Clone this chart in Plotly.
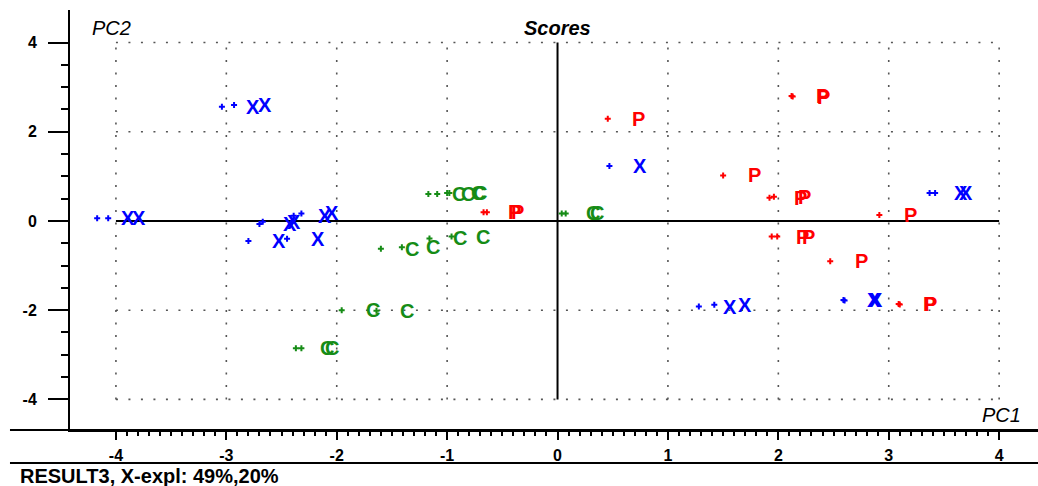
import plotly.graph_objects as go

# ---- data (PC1, PC2 scores) ----
x_blue = [-3.04, -2.93, -4.17, -4.07, -2.70, -2.67, -2.39, -2.32, -2.80, -2.45,
          0.47, 3.37, 3.42, 2.59, 2.60, 1.28, 1.42]
y_blue = [2.56, 2.60, 0.06, 0.06, -0.07, -0.02, 0.12, 0.17, -0.45, -0.40,
          1.23, 0.63, 0.63, -1.77, -1.78, -1.92, -1.88]

x_red = [2.12, 2.13, 0.455, 1.50, 1.92, 1.96, 2.915, 1.94, 1.99, 2.47, 3.09, 3.10, -0.67, -0.64]
y_red = [2.80, 2.79, 2.29, 1.02, 0.52, 0.545, 0.135, -0.35, -0.35, -0.90, -1.86, -1.87, 0.195, 0.195]

x_green = [0.038, 0.074, -1.17, -1.09, -1.00, -0.98, -1.60, -1.41, -1.16, -0.96,
           -1.955, -1.64, -2.37, -2.32]
y_green = [0.17, 0.17, 0.605, 0.605, 0.63, 0.63, -0.62, -0.59, -0.39, -0.35,
           -2.00, -2.01, -2.855, -2.855]

groups = [
    ("X", x_blue, y_blue, "#0000ff"),
    ("P", x_red, y_red, "#ff0000"),
    ("C", x_green, y_green, "#168c16"),
]

x_ticks = [-4, -3, -2, -1, 0, 1, 2, 3, 4]
y_ticks = [-4, -2, 0, 2, 4]
x_minor = [round(-4 + 0.1 * i, 1) for i in range(81) if i % 10 != 0]
y_minor = [-4 + 0.5 * i for i in range(17) if i % 4 != 0]

title_text = "Scores"
x_title = "PC1"
y_title = "PC2"
footer = "RESULT3, X-expl: 49%,20%"

FONT = "Liberation Sans, Arial"

fig = go.Figure()

annotations = []
for lab, xs, ys, col in groups:
    fig.add_trace(go.Scatter(
        x=xs, y=ys, mode="markers",
        marker=dict(symbol="cross", size=5, color=col, line=dict(width=0)),
        showlegend=False, hoverinfo="skip",
    ))
    for xv, yv in zip(xs, ys):
        annotations.append(dict(
            x=xv, y=yv, xref="x", yref="y", text="<b>" + lab + "</b>", showarrow=False,
            xshift=31, font=dict(family=FONT, size=20, color=col),
        ))

shapes = []
grid_col = "#555555"
for gx in x_ticks:
    if gx == 0:
        continue
    shapes.append(dict(type="line", xref="x", yref="y", x0=gx, x1=gx,
                       y0=y_ticks[0], y1=y_ticks[-1],
                       line=dict(color=grid_col, width=1.6, dash="2px,10.5px"), layer="below"))
for gy in y_ticks:
    if gy == 0:
        continue
    shapes.append(dict(type="line", xref="x", yref="y", x0=x_ticks[0], x1=x_ticks[-1],
                       y0=gy, y1=gy,
                       line=dict(color=grid_col, width=1.6, dash="2px,10.5px"), layer="below"))
# zero lines
shapes.append(dict(type="line", xref="x", yref="y", x0=x_ticks[0], x1=x_ticks[-1], y0=0, y1=0,
                   line=dict(color="black", width=2), layer="below"))
shapes.append(dict(type="line", xref="x", yref="y", x0=0, x1=0, y0=y_ticks[0], y1=y_ticks[-1],
                   line=dict(color="black", width=2), layer="below"))
# x axis extension to the left and footer separator
shapes.append(dict(type="line", xref="paper", yref="paper", x0=-0.062, x1=1, y0=0, y1=0,
                   line=dict(color="black", width=2)))
shapes.append(dict(type="line", xref="paper", yref="paper", x0=-0.062, x1=1, y0=-0.0786, y1=-0.0786,
                   line=dict(color="black", width=2)))

annotations += [
    dict(x=0, y=0.957, xref="x", yref="paper", text="<b><i>" + title_text + "</i></b>",
         showarrow=False, xanchor="center", yanchor="middle",
         font=dict(family=FONT, size=20, color="black")),
    dict(x=0.0207, y=0.957, xref="paper", yref="paper", text="<i>" + y_title + "</i>",
         showarrow=False, xanchor="left", yanchor="middle",
         font=dict(family=FONT, size=20, color="black")),
    dict(x=0.9845, y=0.0357, xref="paper", yref="paper", text="<i>" + x_title + "</i>",
         showarrow=False, xanchor="right", yanchor="middle",
         font=dict(family=FONT, size=20, color="black")),
    dict(x=-0.0537, y=-0.1095, xref="paper", yref="paper", text="<b>" + footer + "</b>",
         showarrow=False, xanchor="left", yanchor="middle",
         font=dict(family=FONT, size=20, color="black")),
]

tick_font = dict(family=FONT, size=16, color="black", weight="bold")

fig.update_layout(
    width=1038, height=486,
    margin=dict(l=70, r=0, t=10, b=56),
    paper_bgcolor="white", plot_bgcolor="white",
    shapes=shapes, annotations=annotations,
    xaxis=dict(
        range=[-4.416, 4.352], tickmode="array", tickvals=x_ticks,
        ticktext=[str(v) for v in x_ticks],
        ticks="outside", ticklen=8, tickwidth=2, tickcolor="black",
        showline=True, linewidth=2, linecolor="black", mirror=False,
        showgrid=False, zeroline=False, tickfont=tick_font, ticklabelstandoff=2,
        minor=dict(tickmode="array", tickvals=x_minor, ticks="outside", ticklen=4,
                   tickwidth=1.5, tickcolor="black", showgrid=False),
    ),
    yaxis=dict(
        range=[-4.686, 4.73], tickmode="array", tickvals=y_ticks,
        ticktext=[str(v) for v in y_ticks],
        ticks="outside", ticklen=20, tickwidth=2, tickcolor="black",
        showline=True, linewidth=2, linecolor="black", mirror=False,
        showgrid=False, zeroline=False, tickfont=tick_font, ticklabelstandoff=8,
        minor=dict(tickmode="array", tickvals=y_minor, ticks="outside", ticklen=7,
                   tickwidth=2, tickcolor="black", showgrid=False),
    ),
)

fig.write_html("out.html", config={"displayModeBar": False},
               post_script="document.body.style.margin='0';")
